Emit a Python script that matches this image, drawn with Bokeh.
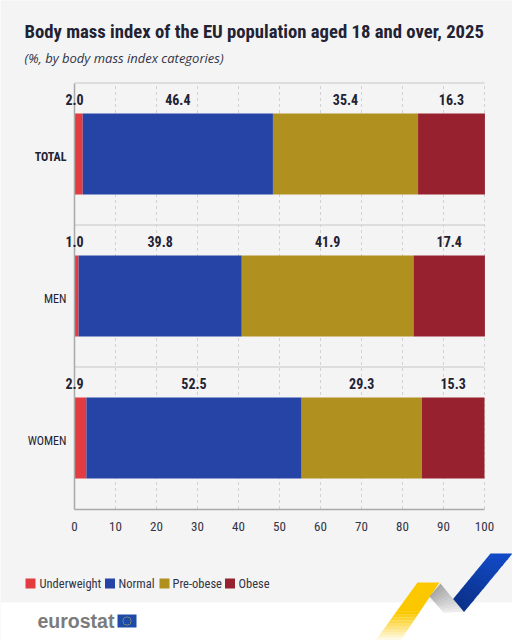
import math
from bokeh.embed import file_html
from bokeh.resources import INLINE
from bokeh.plotting import figure
from bokeh.models import Label, BoxAnnotation, PolyAnnotation, FixedTicker, ColumnDataSource, LinearAxis

groups = ["TOTAL", "MEN", "WOMEN"]
underweight = [2.0, 1.0, 2.9]
normal = [46.4, 39.8, 52.5]
pre_obese = [35.4, 41.9, 29.3]
obese = [16.3, 17.4, 15.3]
series = ["Underweight", "Normal", "Pre-obese", "Obese"]
colors = ["#e23c41", "#2644a5", "#b0901e", "#98212f"]
x_ticks = [0, 10, 20, 30, 40, 50, 60, 70, 80, 90, 100]

W, H = 512, 640
FONT = "Roboto Condensed"
INK = "#222233"
BG = "#f4f4f5"

# The plot area covers the whole canvas, so that title, legend and branding are not clipped.
X0, X100 = 74.0, 484.0
Y_TOP, Y_BOTTOM = 82.5, 508.5
n = len(groups)
px_x = (X100 - X0) / 100
px_y = (Y_BOTTOM - Y_TOP) / n
x_range = (-X0 / px_x, 100 + (W - X100) / px_x)
y_range = (-(H - Y_BOTTOM) / px_y, n + Y_TOP / px_y)

y_pos = [n - i - 0.5 for i in range(n)]
data = dict(y=y_pos, Underweight=underweight, Normal=normal)
data["Pre-obese"] = pre_obese
data["Obese"] = obese
source = ColumnDataSource(data)

p = figure(width=W, height=H, output_backend="svg", toolbar_location=None,
           x_range=x_range, y_range=y_range, x_axis_type=None, y_axis_type=None,
           background_fill_color=BG, border_fill_color=BG,
           min_border=0, outline_line_color=None)
p.grid.visible = False

# grid behind the bars
grid = p.segment(x0=x_ticks[1:], x1=x_ticks[1:], y0=0, y1=n, line_color="#d2d2d2", line_width=1)
grid.glyph.line_dash = [3, 3]
seps = list(range(1, n + 1))
p.segment(x0=0, x1=100, y0=seps, y1=seps, line_color="#d6d6d6", line_width=1.5)

p.hbar_stack(series, y="y", height=0.57, color=colors, source=source, line_color=None)

xaxis = LinearAxis(fixed_location=0, ticker=FixedTicker(ticks=x_ticks), bounds=(0, 100))
yaxis = LinearAxis(fixed_location=0, ticker=FixedTicker(ticks=[]), bounds=(0, n))
for ax in (xaxis, yaxis):
    ax.major_tick_line_color = None
    ax.minor_tick_line_color = None
    ax.axis_line_color = "#a9a9a9"
    ax.axis_line_width = 1.5
    ax.major_label_text_font = FONT
xaxis.major_label_text_font_size = "13px"
xaxis.major_label_text_color = "#333344"
xaxis.major_label_standoff = 7
p.add_layout(xaxis, "below")
p.add_layout(yaxis, "left")


def label(x, y, text, size, style="normal", color=INK, font=FONT, **kw):
    p.add_layout(Label(x=x, y=y, x_units="canvas", y_units="canvas", text=text,
                       text_font=font, text_font_size=size, text_font_style=style,
                       text_color=color, text_baseline="middle", **kw))


def box(l, r, t, b, color, level="annotation"):
    p.add_layout(BoxAnnotation(left=l, right=r, top=t, bottom=b, level=level,
                               left_units="canvas", right_units="canvas", top_units="canvas",
                               bottom_units="canvas", fill_color=color, fill_alpha=1, line_color=None))


def poly(pts, color):
    p.add_layout(PolyAnnotation(xs=[a for a, _ in pts], ys=[b for _, b in pts],
                                xs_units="canvas", ys_units="canvas",
                                fill_color=color, fill_alpha=1, line_color=None))


def mix(c0, c1, t):
    a = [int(c0[i:i + 2], 16) for i in (1, 3, 5)]
    b = [int(c1[i:i + 2], 16) for i in (1, 3, 5)]
    return "#" + "".join(f"{round(u + (v - u) * t):02x}" for u, v in zip(a, b))


def band(e0, e1, c0, c1, steps):
    (a0, a1), (b0, b1) = e0, e1
    for k in range(steps):
        t0, t1 = k / steps, (k + 1) / steps
        q = lambda s, u, v: (u[0] + (v[0] - u[0]) * s, u[1] + (v[1] - u[1]) * s)
        poly([q(t0, a0, b0), q(t0, a1, b1), q(t1 + 0.01, a1, b1), q(t1 + 0.01, a0, b0)], mix(c0, c1, t0))


# value labels (the first category sits on the zero line, the rest on their segment)
for i, yp in enumerate(y_pos):
    start = 0.0
    for j, arr in enumerate([underweight, normal, pre_obese, obese]):
        v = arr[i]
        p.add_layout(Label(x=0.0 if j == 0 else start + v / 2, y=yp, y_offset=55, text=f"{v:.1f}",
                           text_font=FONT, text_font_style="bold",
                           text_font_size="14px", text_color=INK, text_align="center",
                           text_baseline="middle"))
        start += v
    p.add_layout(Label(x=0, y=yp, x_offset=-8, y_offset=-2.5, text=groups[i], text_font=FONT,
                       text_font_style="bold" if i == 0 else "normal", text_font_size="12px",
                       text_color=INK, text_align="right", text_baseline="middle"))

label(24, 31, "Body mass index of the EU population aged 18 and over, 2025", "18.7px", "bold")
label(24, 57.5, "(%, by body mass  index categories)", "13px", "italic", "#333344", font="Open Sans")

# footer band first, so the branding sits above it
box(0, 512, 602, 640, "#ffffff", level="underlay")

# legend
leg_x = [25, 104.5, 159, 224.5]
txt_x = [39, 118, 172, 238]
for s, c, a, b in zip(series, colors, leg_x, txt_x):
    box(a, a + 10, 578, 588, c)
    label(b, 582.5, s, "12.5px", color="#333344")

# branding
label(37, 620, "eurostat", "19.5px", "bold", "#7b7b7b", font="Liberation Sans")
box(117, 136, 614, 627, "#1d4ca8")
for k in range(12):
    cx = 126.5 + 4 * math.cos(k * math.pi / 6)
    cy = 620.5 + 4 * math.sin(k * math.pi / 6)
    box(cx - 0.5, cx + 0.5, cy - 0.5, cy + 0.5, "#c9b44a")

yl, yr = (417, 582), (439, 582)
ml, mr = (396, 611), (419.5, 611)
band((yl, yr), (ml, mr), "#fbc800", "#fbc800", 1)
band((ml, mr), ((375, 640), (400, 640)), "#fbc800", "#ffffff", 10)
band(((429, 596), (440, 583)), ((443, 612), (463, 611)), "#a8a8a8", "#f2f2f2", 10)
band(((490, 553), (512, 553)), ((453, 598), (464, 611)), "#1249c6", "#0a2f85", 10)

open("out.html", "w").write(file_html(p, INLINE))
